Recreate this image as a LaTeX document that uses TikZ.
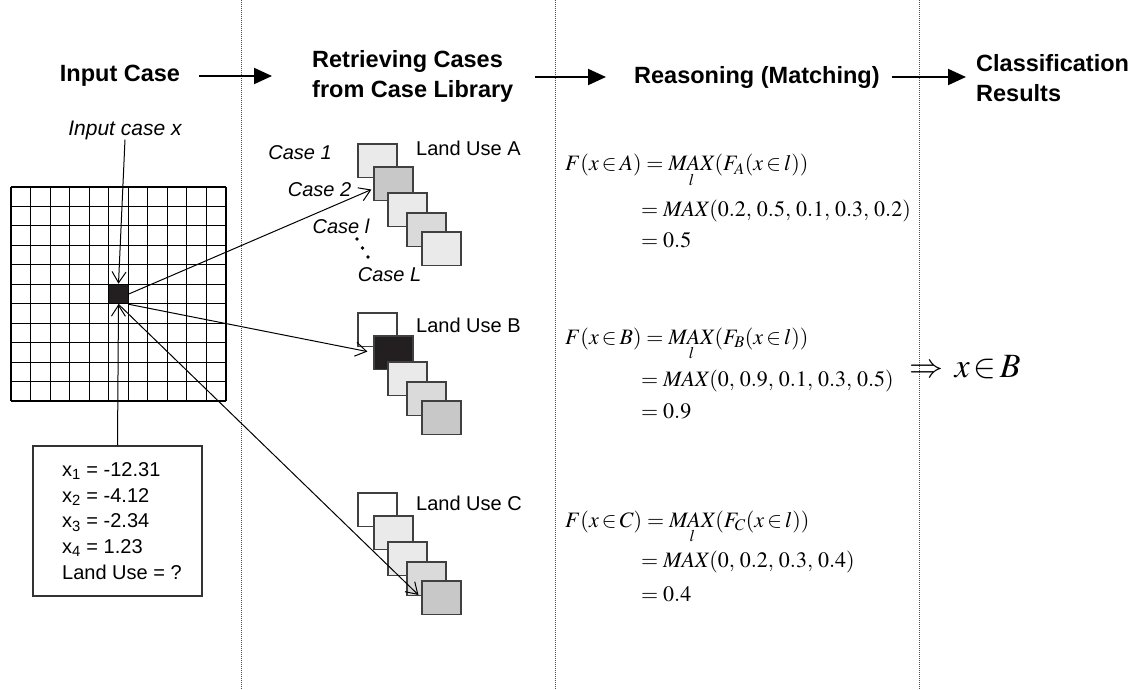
\documentclass[tikz,border=0pt]{standalone}
\usepackage{mathptmx}
\usepackage[no-math]{fontspec}
\setmainfont{Liberation Sans}
\usetikzlibrary{arrows.meta}
\definecolor{sqA}{HTML}{EAEAEA}
\definecolor{sqB}{HTML}{DADADA}
\definecolor{sqC}{HTML}{C8C8C8}
\definecolor{sqK}{HTML}{231F20}
\newcommand{\elt}{\mathbin{\in}}
\tikzset{
  hdr/.style={font=\bfseries\fontsize{23.5}{30}\selectfont, align=left, inner sep=0},
  harrow/.style={line width=2pt, -{Triangle[length=18pt,width=16pt]}},
  conn/.style={line width=1pt, -{Straight Barb[length=11pt,width=14pt,line width=1pt]}},
  sq/.style={draw=black!75, line width=1.4pt, minimum width=39pt, minimum height=33.5pt, inner sep=0},
  caselbl/.style={font=\itshape\fontsize{20}{24}\selectfont, inner sep=0},
  lbl/.style={font=\fontsize{20}{24}\selectfont, inner sep=0, anchor=west},
  sepline/.style={black!70, line width=1pt, dash pattern=on 1pt off 1pt},
  mth/.style={font=\fontsize{22}{26}\selectfont, inner sep=0, anchor=base west},
  dotc/.style={fill=black, circle, inner sep=0, minimum size=3.6pt},
}
\begin{document}
\begin{tikzpicture}[x=1pt,y=-1pt]
\useasboundingbox (0,0) rectangle (1135,690);
% separators
\draw[sepline] (241,0) -- (241,690);
\draw[sepline] (555,0) -- (555,690);
\draw[sepline] (919,0) -- (919,690);
% headers
\node[hdr] (hin) at (120,76) {Input Case};
\node[hdr, anchor=west] (hret) at (312,76) {Retrieving Cases\\from Case Library};
\node[hdr, anchor=west] (hrea) at (634,77) {Reasoning (Matching)};
\node[hdr, anchor=west] (hcls) at (976,78) {Classification\\Results};
\draw[harrow, shorten <=19pt, shorten >=40pt] (hin.east) -- (hret.west |- hin.east);
\draw[harrow, shorten <=21pt, shorten >=28pt] (hret.east |- hrea.west) -- (hrea.west);
\draw[harrow, shorten <=12pt, shorten >=10pt] (hrea.east) -- (hcls.west |- hrea.east);
% grid
\foreach \i in {0,...,11} {
  \draw[line width=1.1pt] ({11+\i*19.545},187) -- ({11+\i*19.545},401);
  \draw[line width=1.1pt] (11,{187+\i*19.455}) -- (226,{187+\i*19.455});
}
\node[draw=black, fill=sqK, line width=1.1pt, minimum width=19.5pt, minimum height=19.5pt, inner sep=0] (cell) at (118.5,294) {};
% input case label
\node[caselbl, font=\itshape\fontsize{21}{24}\selectfont] (inlbl) at (125,130) {Input case x};
\draw[conn] (inlbl.south) -- (cell.north);
% attribute box
\node[draw=black!80, line width=1.2pt, minimum width=169pt, minimum height=150pt, inner sep=0] (box) at (117.5,521) {};
\node[anchor=west, align=left, inner sep=0, font=\fontsize{20}{25.7}\selectfont] (boxtxt) at (62,521)
  {x\textsubscript{1} = -12.31\\x\textsubscript{2} = -4.12\\x\textsubscript{3} = -2.34\\x\textsubscript{4} = 1.23\\Land Use = ?};
\draw[conn] (box.north) -- (cell.south);
% stack A
\node[sq, fill=sqA] (a1) at (377.5,160.75) {};
\node[sq, fill=sqC] (a2) at (393.5,183.75) {};
\node[sq, fill=sqA] (a3) at (407.5,209.75) {};
\node[sq, fill=sqB] (a4) at (426.5,229.75) {};
\node[sq, fill=sqA] (a5) at (441.5,248.75) {};
% stack B
\node[sq, fill=white] (b1) at (377.5,329.75) {};
\node[sq, fill=sqK] (b2) at (393.5,352.75) {};
\node[sq, fill=sqA] (b3) at (407.5,378.75) {};
\node[sq, fill=sqB] (b4) at (426.5,398.75) {};
\node[sq, fill=sqC] (b5) at (441.5,417.75) {};
% stack C
\node[sq, fill=white] (c1) at (377.5,509.75) {};
\node[sq, fill=sqA] (c2) at (393.5,532.75) {};
\node[sq, fill=sqA] (c3) at (407.5,558.75) {};
\node[sq, fill=sqB] (c4) at (426.5,578.75) {};
\node[sq, fill=sqC] (c5) at (441.5,597.75) {};
% land use labels
\node[lbl] (luA) at (416,148) {Land Use A};
\node[lbl] (luB) at (416,325) {Land Use B};
\node[lbl] (luC) at (416,503) {Land Use C};
% case labels
\node[caselbl] (case1) at (300,153) {Case 1};
\node[caselbl] (case2) at (319.5,190) {Case 2};
\node[caselbl] (casel) at (341,226) {Case l};
\node[caselbl] (caseL) at (389.5,275) {Case L};
\node[dotc] (d1) at (357,239) {};
\node[dotc] (d2) at (362.5,248) {};
\node[dotc] (d3) at (368,257) {};
% connectors from cell
\draw[conn, shorten >=2pt] (cell.east) -- ([yshift=-5pt]a2.west);
\draw[conn, shorten >=6pt] (cell.south east) -- (b2.west);
\draw[conn, shorten >=4pt] (cell.south) -- (c5.west);
% formulas
\node[mth] (fa1) at (565,171) {$F(x\elt A) = \mathop{\mathit{MAX}}\limits_{l}(F_A(x\elt l))$};
\node[mth] (fa2) at (641,216) {$= \mathit{MAX}(0.2,\,0.5,\,0.1,\,0.3,\,0.2)$};
\node[mth] (fa3) at (641,247) {$= 0.5$};
\node[mth] (fb1) at (565,344) {$F(x\elt B) = \mathop{\mathit{MAX}}\limits_{l}(F_B(x\elt l))$};
\node[mth] (fb2) at (641,386) {$= \mathit{MAX}(0,\,0.9,\,0.1,\,0.3,\,0.5)$};
\node[mth] (fb3) at (641,418) {$= 0.9$};
\node[mth] (fc1) at (565,527) {$F(x\elt C) = \mathop{\mathit{MAX}}\limits_{l}(F_C(x\elt l))$};
\node[mth] (fc2) at (641,567) {$= \mathit{MAX}(0,\,0.2,\,0.3,\,0.4)$};
\node[mth] (fc3) at (641,601) {$= 0.4$};
% result
\node[mth, font=\fontsize{34}{38}\selectfont] (res) at (909,377) {$\Rightarrow\, x\mkern2mu{\in}\mkern2mu B$};
\end{tikzpicture}
\end{document}
